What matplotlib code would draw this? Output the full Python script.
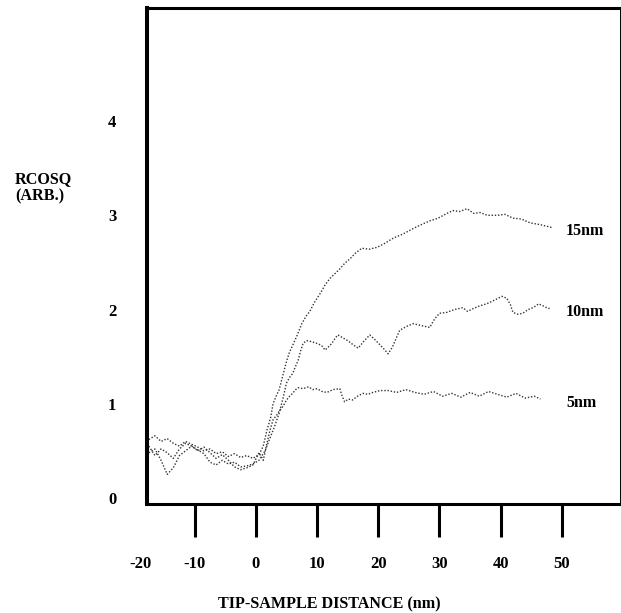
import matplotlib
matplotlib.use("Agg")
import matplotlib.pyplot as plt
import matplotlib.transforms as mtransforms

# ---- data ----
x15 = [-17.5, -16.5, -15.5, -14.5, -13.5, -12.5, -11.5, -10.5, -9.5, -8.5, -7.5, -6.5, -5.5, -4.5,
       -3.5, -2.5, -1.5, -0.5, 0.5, 1.2, 1.8, 2.4, 2.8, 3.3, 3.8, 4.4, 5.0, 5.5, 6.0, 6.7, 7.5, 8.2,
       8.8, 9.6, 10.5, 11.3, 12.1, 12.9, 13.7, 14.5, 15.4, 16.3, 17.3, 18.5, 19.8, 21.0, 22.5, 24.0,
       25.7, 27.0, 28.4, 29.8, 31.2, 32.2, 33.3, 34.5, 35.6, 36.6, 37.8, 39.4, 40.7, 42.0, 43.4,
       44.8, 46.5, 48.4]
y15 = [0.62, 0.66, 0.60, 0.63, 0.58, 0.55, 0.60, 0.57, 0.54, 0.50, 0.52, 0.47, 0.49, 0.44,
       0.47, 0.43, 0.45, 0.42, 0.46, 0.55, 0.72, 0.85, 1.00, 1.08, 1.15, 1.30, 1.45, 1.55, 1.62, 1.72,
       1.85, 1.93, 1.98, 2.08, 2.17, 2.26, 2.33, 2.38, 2.43, 2.49, 2.54, 2.60, 2.65, 2.64, 2.66, 2.70,
       2.76, 2.80, 2.86, 2.90, 2.94, 2.97, 3.02, 3.05, 3.04, 3.07, 3.02, 3.03, 3.00, 3.00, 3.01, 2.97,
       2.96, 2.92, 2.90, 2.87]

x10 = [-17.5, -16.5, -15.5, -14.5, -13.5, -12.5, -11.5, -10.5, -9.5, -8.5, -7.5, -6.5, -5.5, -4.5,
       -3.5, -2.5, -1.5, -0.5, 0.5, 1.5, 2.2, 3.0, 3.8, 4.4, 5.0, 5.5, 6.0, 6.5, 6.9, 7.3, 7.7, 8.3,
       9.0, 10.0, 10.7, 11.3, 11.8, 12.4, 13.0, 13.4, 14.2, 15.0, 15.8, 16.7, 17.6, 18.6, 19.3, 19.9,
       20.8, 21.6, 22.3, 23.5, 24.6, 25.7, 27.0, 28.4, 29.2, 30.0, 31.2, 32.5, 33.8, 34.6, 35.5,
       36.6, 37.7, 39.0, 40.2, 41.0, 41.6, 42.0, 42.8, 43.6, 44.5, 45.3, 46.2, 46.9, 47.5, 48.0]
y10 = [0.48, 0.52, 0.40, 0.25, 0.32, 0.45, 0.50, 0.55, 0.51, 0.47, 0.38, 0.35, 0.40, 0.36,
       0.38, 0.33, 0.34, 0.36, 0.40, 0.50, 0.62, 0.75, 0.90, 1.05, 1.22, 1.28, 1.32, 1.40, 1.46, 1.56,
       1.64, 1.67, 1.66, 1.64, 1.62, 1.57, 1.60, 1.64, 1.70, 1.73, 1.70, 1.67, 1.63, 1.59, 1.66, 1.73,
       1.69, 1.65, 1.59, 1.53, 1.60, 1.78, 1.82, 1.85, 1.83, 1.81, 1.90, 1.96, 1.97, 2.00, 2.02, 1.98,
       2.01, 2.04, 2.06, 2.10, 2.14, 2.12, 2.05, 1.97, 1.95, 1.96, 2.00, 2.02, 2.06, 2.04, 2.02, 2.01]

x5 = [-17.5, -16.5, -15.5, -14.5, -13.5, -12.5, -11.5, -10.5, -9.5, -8.5, -7.5, -6.5, -5.5, -4.5,
      -3.5, -2.5, -1.5, -0.5, 0.5, 1.2, 1.8, 2.3, 2.8, 3.4, 3.9, 4.5, 5.0, 5.5, 6.0, 6.5, 6.9, 7.7,
      8.6, 9.3, 10.0, 10.8, 11.6, 12.6, 13.7, 14.1, 14.5, 15.1, 15.8, 16.6, 17.5, 18.3, 19.1, 20.3,
      21.6, 23.0, 24.5, 26.0, 27.5, 29.0, 30.5, 32.0, 33.5, 35.0, 36.5, 38.0, 39.5, 41.0, 42.5,
      44.0, 45.5, 46.5]
y5 = [0.55, 0.45, 0.52, 0.48, 0.42, 0.52, 0.58, 0.55, 0.50, 0.54, 0.48, 0.42, 0.46, 0.40,
      0.33, 0.30, 0.32, 0.35, 0.48, 0.40, 0.58, 0.72, 0.83, 0.88, 0.93, 0.98, 1.04, 1.08, 1.11, 1.15,
      1.17, 1.16, 1.18, 1.15, 1.16, 1.13, 1.12, 1.15, 1.16, 1.08, 1.02, 1.05, 1.04, 1.08, 1.11, 1.10,
      1.12, 1.14, 1.14, 1.12, 1.15, 1.12, 1.10, 1.13, 1.08, 1.11, 1.07, 1.12, 1.08, 1.13, 1.10, 1.07,
      1.11, 1.06, 1.08, 1.05]

series_labels = ["15nm", "10nm", "5nm"]
xtick_values = [-10, 0, 10, 20, 30, 40, 50]
ytick_values = [0, 1, 2, 3, 4]

FONT = "Liberation Serif"

fig = plt.figure(figsize=(6.21, 6.13), dpi=100)
ax = fig.add_axes([147 / 621, 1 - 504 / 613, (620 - 147) / 621, (504 - 8) / 613])

dot = (0, (1, 1.3))
for xs, ys in [(x15, y15), (x10, y10), (x5, y5)]:
    ax.plot(xs, ys, ls=dot, lw=1.0, color="#333333")

ax.set_xlim(-17.8, 59.5)
ax.set_ylim(-0.064, 5.2)

# series labels in a column right of the curves, at each curve's end level
label_x = 50.7
for ys, lab in [(y15, series_labels[0]), (y10, series_labels[1]), (y5, series_labels[2])]:
    ax.annotate(lab, xy=(label_x, ys[-1]), xytext=(0, -2.5), textcoords="offset points",
                ha="left", va="center", fontsize=11.5, fontweight="bold", family=FONT)

# spines
ax.spines["left"].set_linewidth(2.9)
ax.spines["top"].set_linewidth(2.2)
ax.spines["bottom"].set_linewidth(2.2)
ax.spines["right"].set_linewidth(0.7)

# x ticks
ax.set_xticks(xtick_values)
ax.set_xticklabels([str(v) for v in xtick_values], fontsize=12, fontweight="bold", family=FONT)
ax.tick_params(axis="x", direction="out", length=23.8, width=2.2, pad=13.5)

# extra "-20" label left of the frame
off = mtransforms.offset_copy(ax.get_xaxis_transform(), fig=fig, x=5, y=-(23.8 + 13.5), units="points")
ax.text(-20, 0, "-20", transform=off, ha="center", va="top", fontsize=12,
        fontweight="bold", family=FONT, clip_on=False)

# y ticks
ax.set_yticks(ytick_values)
ax.set_yticklabels([str(v) for v in ytick_values], fontsize=12, fontweight="bold", family=FONT)
ax.tick_params(axis="y", length=0, pad=22)

fig.text(15 / 621, 1 - 188 / 613, "RCOSQ\n(ARB.)", ha="left", va="center", fontsize=11.6,
         fontweight="bold", family=FONT, linespacing=1.1)
fig.text(329 / 621, 1 - 604 / 613, "TIP-SAMPLE DISTANCE (nm)", ha="center", va="center",
         fontsize=11.6, fontweight="bold", family=FONT)

fig.savefig("out.png", dpi=100)
